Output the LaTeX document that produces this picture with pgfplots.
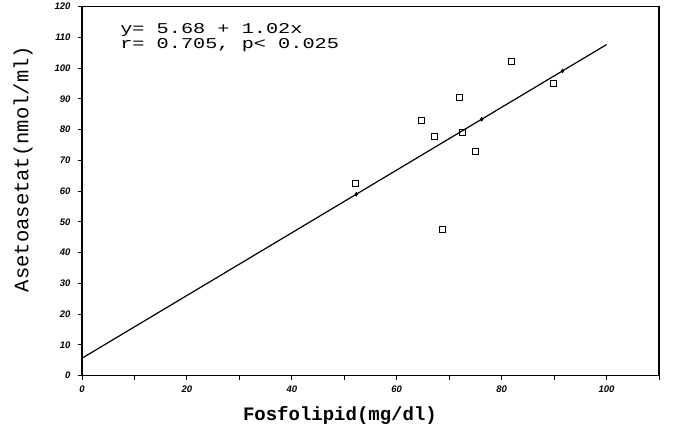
\documentclass[border=0pt]{standalone}
\usepackage{fontspec}
\setmainfont{Liberation Serif}
\newfontfamily\monofont{Liberation Mono}
\newfontfamily\annfont[FakeStretch=1.35]{Liberation Mono}
\newfontfamily\tickfont{Liberation Sans}
\usepackage{pgfplots}
\pgfplotsset{compat=1.18}
\begin{document}
\begin{tikzpicture}
\begin{axis}[
  scale only axis, width=577pt, height=369pt,
  xmin=0, xmax=110, ymin=0, ymax=120,
  axis line style={line width=1.3pt},
  xtick={0,10,...,110}, xticklabels={0,,20,,40,,60,,80,,100,},
  ytick={0,10,...,120},
  tick align=outside, tick pos=left, major tick length=4pt,
  tick style={line width=0.9pt,black},
  /pgf/number format/assume math mode=true,
  ticklabel style={font=\tickfont\fontsize{9.5}{10}\selectfont\itshape\bfseries},
  xticklabel style={yshift=-3pt},
  yticklabel style={xshift=-4pt},
  xlabel={Fosfolipid(mg/dl)}, ylabel={Asetoasetat(nmol/ml)},
  xlabel style={at={(axis description cs:0.447,0)}, anchor=center, yshift=-40pt, font=\monofont\fontsize{19}{20}\selectfont\bfseries},
  ylabel style={at={(axis description cs:-0.102,0.56)}, anchor=center, font=\monofont\fontsize{20.5}{21}\selectfont},
  clip=false,
]
\addplot[black, line width=1.2pt] coordinates {(0,5.68) (100,107.68)};
\addplot[only marks, mark=square, mark size=3pt, black, line width=0.8pt] coordinates {
(81.8,102.3) (89.8,95.2) (71.9,90.5) (64.7,82.9) (67.1,77.9) (72.5,79.0) (75.0,73.0) (52.2,62.6) (68.7,47.6)};
\addplot[only marks, mark=diamond*, mark size=2pt, black] coordinates {(52.3,59.0) (76.2,83.4) (91.6,99.1)};
\node[anchor=base west, font=\annfont\fontsize{15}{16}\selectfont, inner sep=0pt] at (axis description cs:0.066,0.927) {y= 5.68 + 1.02x};
\node[anchor=base west, font=\annfont\fontsize{15}{16}\selectfont, inner sep=0pt] at (axis description cs:0.066,0.886) {r= 0.705, p< 0.025};
\end{axis}
\path[use as bounding box] (-82pt,-62pt) rectangle (603pt,372pt);
\end{tikzpicture}
\end{document}
